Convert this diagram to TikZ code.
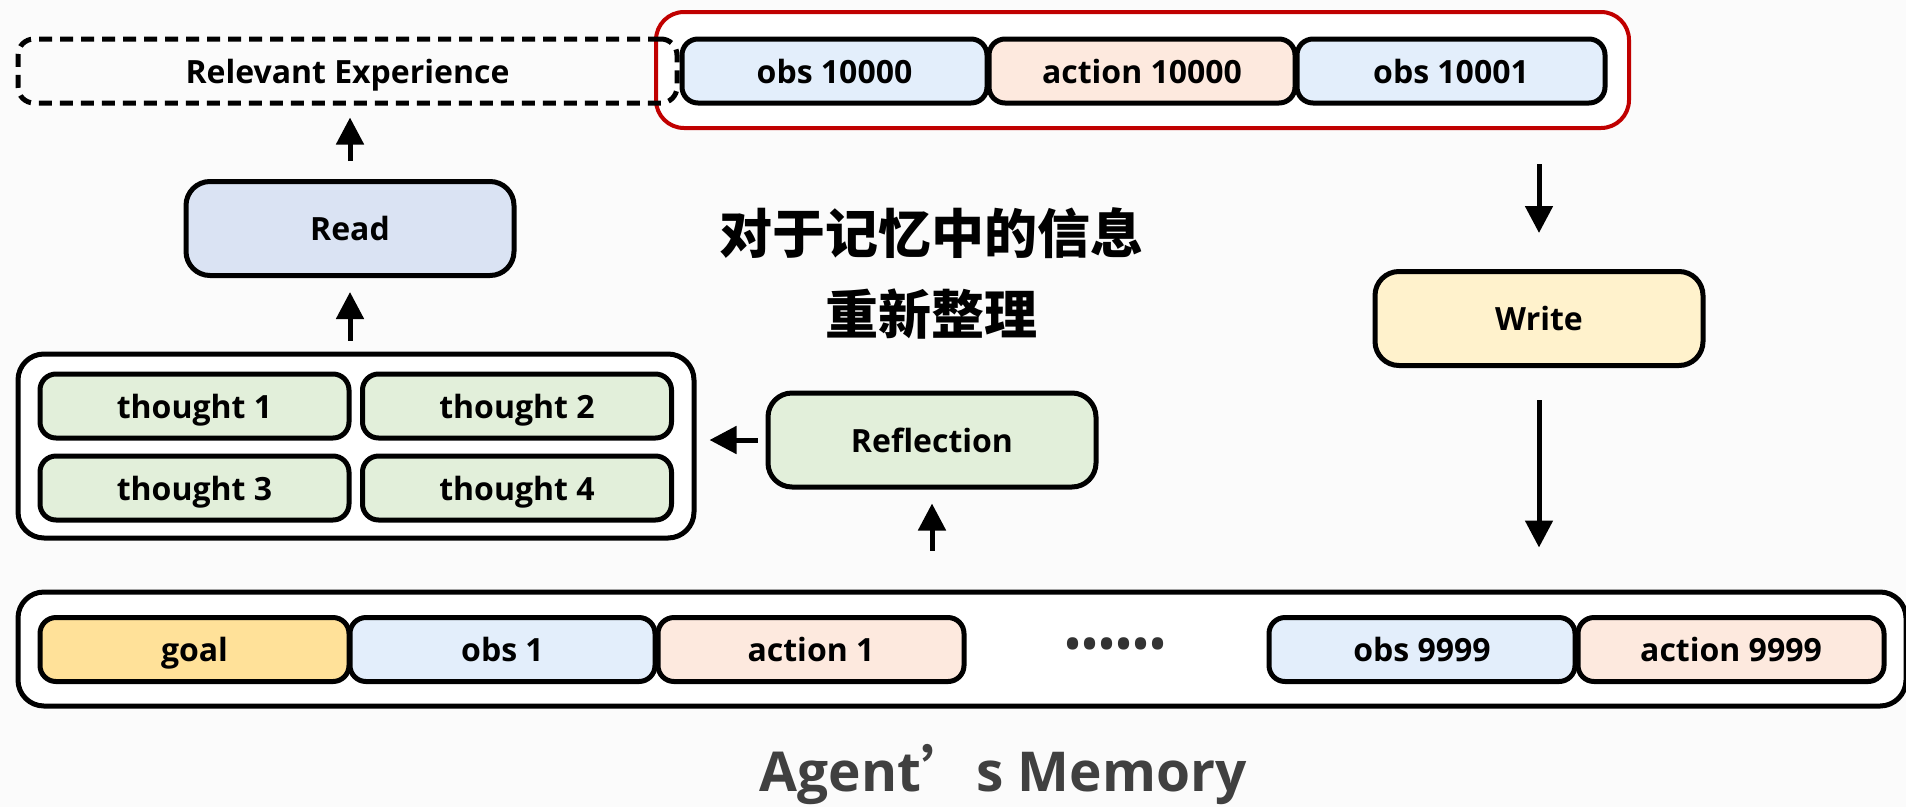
\documentclass[tikz,border=0pt]{standalone}
\usepackage{fontspec}
\setmainfont{Open Sans}
\newfontfamily\cjk{Noto Sans CJK SC}
\usetikzlibrary{arrows.meta}

\definecolor{bgc}{HTML}{FBFBFB}
\definecolor{obsc}{HTML}{E3EEFB}
\definecolor{actc}{HTML}{FDE9DE}
\definecolor{thc}{HTML}{E2EFDA}
\definecolor{readc}{HTML}{DAE3F3}
\definecolor{writec}{HTML}{FFF2CC}
\definecolor{goalc}{HTML}{FFE199}
\definecolor{redc}{HTML}{C00000}
\definecolor{titlec}{HTML}{404040}
\definecolor{dotc}{HTML}{333333}

\tikzset{
  cell/.style={draw=black, line width=5pt, rounded corners=16pt, inner sep=0pt,
    minimum height=64pt, text height=24pt, text depth=0pt,
    font=\fontsize{32}{36}\selectfont\bfseries},
  obs/.style={cell, fill=obsc},
  act/.style={cell, fill=actc},
  thought/.style={cell, fill=thc, minimum width=309pt},
  bigbox/.style={draw=black, line width=5pt, rounded corners=24pt, inner sep=0pt,
    minimum width=328pt, minimum height=94pt, font=\fontsize{32}{36}\selectfont\bfseries},
  frame/.style={draw=black, line width=5pt, rounded corners=26pt, fill=white, inner sep=0pt},
  arr/.style={line width=5pt, -{Triangle[width=27pt,length=27pt]}},
}
\newcommand\dotcell{\makebox[17pt]{\textbullet}}

\begin{document}
\begin{tikzpicture}[x=1pt, y=-1pt]
\useasboundingbox (0,0) rectangle (1906,807);
\fill[bgc] (0,0) rectangle (1906,807);

% newest entries, framed in red
\node[draw=redc, line width=4pt, rounded corners=28pt, fill=white,
  minimum width=973pt, minimum height=116pt] (recent) at (1142.5,70) {};
\node[obs, minimum width=305pt] (o10000) at (834.5,71) {obs 10000};
\node[act, minimum width=306pt] (a10000) at (1142,71) {action 10000};
\node[obs, minimum width=308pt] (o10001) at (1451,71) {obs 10001};

% retrieved experience
\node[cell, dashed, dash pattern=on 13pt off 8pt, minimum width=659pt] (exp) at (347.5,71) {Relevant Experience};

% read / write / reflection
\node[bigbox, fill=readc] (read) at (350,228.5) {Read};
\node[bigbox, fill=writec] (write) at (1539,318.5) {Write};
\node[bigbox, fill=thc] (refl) at (932,440) {Reflection};

% thoughts
\node[frame, minimum width=676pt, minimum height=184pt] (thoughts) at (356,446) {};
\node[thought] (t1) at (194.5,406) {thought 1};
\node[thought] (t2) at (517,406) {thought 2};
\node[thought] (t3) at (194.5,488) {thought 3};
\node[thought] (t4) at (517,488) {thought 4};

% caption in the middle
\node[font=\cjk\fontsize{53}{81}\selectfont\bfseries, align=center] (note) at (931,273)
  {对于记忆中的信息\\重新整理};

% memory stream
\node[frame, minimum width=1888pt, minimum height=114pt] (mem) at (962,649) {};
\node[cell, fill=goalc, minimum width=309pt] (goal) at (194.5,649.5) {goal};
\node[obs, minimum width=305pt] (o1) at (502.5,649.5) {obs 1};
\node[act, minimum width=306pt] (a1) at (811,649.5) {action 1};
\node[text=dotc, inner sep=0pt, font=\fontsize{40}{40}\selectfont\bfseries] (dots) at (1116,648)
  {\dotcell\dotcell\dotcell\dotcell\dotcell\dotcell};
\node[obs, minimum width=306pt] (o9999) at (1422,649.5) {obs 9999};
\node[act, minimum width=306pt] (a9999) at (1731,649.5) {action 9999};

\node[text=titlec, font=\fontsize{55}{62}\selectfont\bfseries] (title) at (1003,774)
  {Agent{\cjk ’}s Memory};

% flow
\draw[arr, shorten <=18pt, shorten >=12pt] (read.north) -- (read.north |- exp.south);
\draw[arr, shorten <=11pt, shorten >=14pt] (thoughts.north -| read.south) -- (read.south);
\draw[arr, shorten <=8pt, shorten >=13pt] (refl.west) -- (refl.west -| thoughts.east);
\draw[arr, shorten <=39pt, shorten >=14pt] (refl.south |- mem.north) -- (refl.south);
\draw[arr, shorten <=34pt, shorten >=36pt] (write.north |- recent.south) -- (write.north);
\draw[arr, shorten <=32pt, shorten >=42pt] (write.south) -- (write.south |- mem.north);
\end{tikzpicture}
\end{document}
